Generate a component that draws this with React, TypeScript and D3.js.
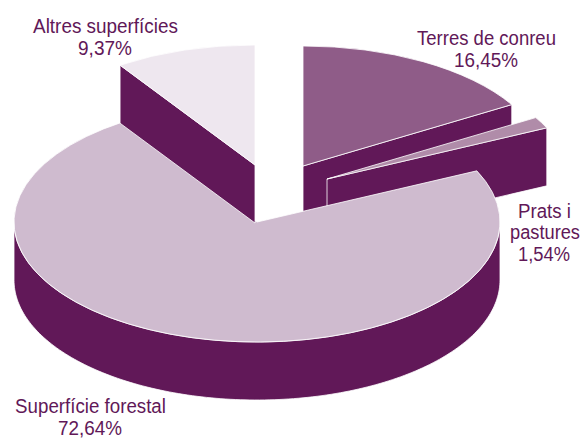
import React, { useEffect, useRef } from "react";
import * as d3 from "d3";

const categories = ["Terres de conreu", "Prats i pastures", "Superfície forestal", "Altres superfícies"];
const values = [16.45, 1.54, 72.64, 9.37];
const valueLabels = ["16,45%", "1,54%", "72,64%", "9,37%"];

const fills = ["#8f5c88", "#b08ca9", "#cfbbcf", "#eee7ef"];
const wallColor = "#611858";
const offsets = [[46, -56], [70, -43], [0, 0], [-2, -57]];
// which cut edge of each slice shows a wall
const wallEdges = ["end", "end", "rim", "start"];
// text, centre x, baseline y, squeezed width (the original uses a condensed face)
const labelLines = [
  [["Terres de conreu", 486.5, 45, 139], ["16,45%", 486, 66.5, 64]],
  [["Prats i", 544.5, 217.5, 53], ["pastures", 545, 239, 70], ["1,54%", 544, 260.5, 52]],
  [["Superfície forestal", 90.5, 413, 151], ["72,64%", 90, 435, 64]],
  [["Altres superfícies", 105.5, 33, 145], ["9,37%", 105, 55, 54]],
];

const width = 582, height = 438;
const cx = 257, cy = 222, rx = 243, ry = 120, depth = 58;

export default function App() {
  const ref = useRef<SVGSVGElement>(null);

  useEffect(() => {
    const svg = d3.select(ref.current);
    svg.selectAll("*").remove();

    const slices = d3.pie<number>().sort(null)(values);
    const arc = d3.arc<any>().innerRadius(0).outerRadius(rx);
    const px = (a: number, i: number) => cx + offsets[i][0] + rx * Math.sin(a);
    const py = (a: number, i: number) => cy + offsets[i][1] - ry * Math.cos(a);

    const wall = d3.area<number[]>()
      .x((d) => d[0])
      .y0((d) => d[1])
      .y1((d) => d[1] + depth);

    slices.forEach((s, i) => {
      const edge = wallEdges[i];
      let pts: number[][];
      if (edge === "rim") {
        // front of the big slice, only the part facing down is visible
        pts = d3.range(Math.PI / 2, (3 * Math.PI) / 2 + 0.01, 0.02).map((a) => [px(a, i), py(a, i)]);
      } else {
        const a = edge === "end" ? s.endAngle : s.startAngle;
        pts = [[cx + offsets[i][0], cy + offsets[i][1]], [px(a, i), py(a, i)]];
      }
      svg.append("path")
        .attr("d", wall(pts))
        .attr("fill", wallColor)
        .attr("stroke", "#fff")
        .attr("stroke-width", 0.8);

      svg.append("path")
        .attr("d", arc(s))
        .attr("transform", `translate(${cx + offsets[i][0]},${cy + offsets[i][1]}) scale(1,${ry / rx})`)
        .attr("fill", fills[i])
        .attr("stroke", "#fff")
        .attr("stroke-width", 0.8)
        .attr("vector-effect", "non-scaling-stroke");
    });

    labelLines.forEach((lines) => {
      lines.forEach((l) => {
        const t = svg.append("text")
          .attr("text-anchor", "middle")
          .attr("font-family", "'Liberation Sans', sans-serif")
          .attr("font-size", 21)
          .attr("fill", wallColor)
          .text(l[0] as string);
        // squeeze to the measured width instead of a condensed font
        const k = (l[3] as number) / (t.node() as SVGTextElement).getComputedTextLength();
        t.attr("transform", `translate(${l[1]},${l[2]}) scale(${k},1)`);
      });
    });
  }, []);

  return (
    <svg
      ref={ref}
      width={width}
      height={height}
      style={{ position: "absolute", left: 0, top: 0, background: "#fff" }}
    />
  );
}
